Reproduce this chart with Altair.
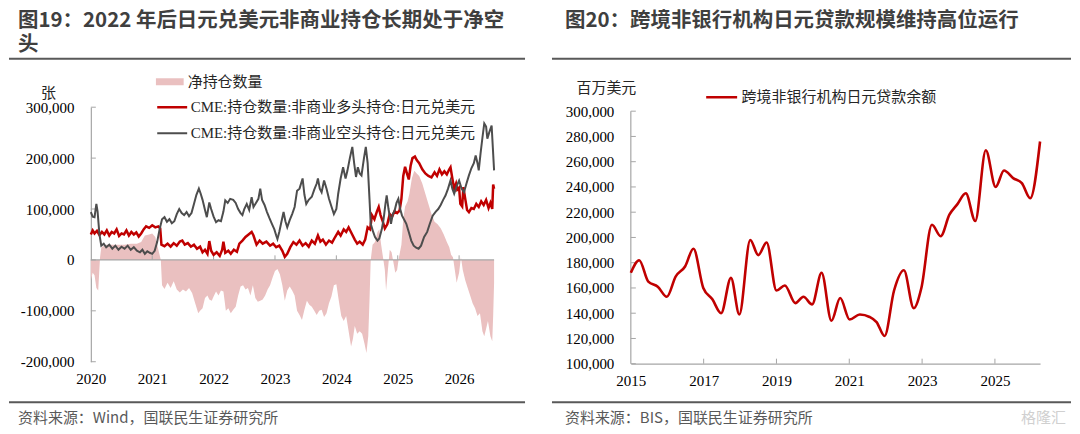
import altair as alt
import pandas as pd

# ---------------- text ----------------
LONG = "CME:持仓数量:非商业多头持仓:日元兑美元"
SHORT = "CME:持仓数量:非商业空头持仓:日元兑美元"
NET = "净持仓数量"
LOAN = "跨境非银行机构日元贷款余额"
left_title_lines = ["图19：2022 年后日元兑美元非商业持仓长期处于净空", "头"]
right_title = "图20：跨境非银行机构日元贷款规模维持高位运行"
left_source = "资料来源：Wind，国联民生证券研究所"
right_source = "资料来源：BIS，国联民生证券研究所"
left_unit = "张"
right_unit = "百万美元"

# ---------------- axes ----------------
left_years = [2020, 2021, 2022, 2023, 2024, 2025, 2026]
left_yticks = [-200000, -100000, 0, 100000, 200000, 300000]
right_years = [2015, 2017, 2019, 2021, 2023, 2025]
right_yticks = [100000, 120000, 140000, 160000, 180000, 200000, 220000,
                240000, 260000, 280000, 300000]

# ---------------- data (thousand contracts) ----------------
long_t = [2020.00, 2020.03, 2020.06, 2020.10, 2020.14, 2020.18, 2020.22, 2020.26, 2020.30, 2020.34,
          2020.38, 2020.42, 2020.46, 2020.50, 2020.54, 2020.58, 2020.62, 2020.66, 2020.70, 2020.74,
          2020.78, 2020.82, 2020.86, 2020.90, 2020.95, 2021.00, 2021.05, 2021.10, 2021.13, 2021.15,
          2021.20, 2021.25, 2021.30, 2021.35, 2021.40, 2021.45, 2021.49, 2021.53, 2021.58, 2021.63,
          2021.68, 2021.73, 2021.78, 2021.82, 2021.86, 2021.90, 2021.93, 2021.96, 2022.00, 2022.05,
          2022.10, 2022.14, 2022.16, 2022.19, 2022.24, 2022.28, 2022.33, 2022.38, 2022.42, 2022.47,
          2022.52, 2022.57, 2022.62, 2022.65, 2022.70, 2022.75, 2022.80, 2022.86, 2022.92, 2022.97,
          2023.02, 2023.07, 2023.12, 2023.16, 2023.20, 2023.25, 2023.30, 2023.35, 2023.40, 2023.45,
          2023.50, 2023.55, 2023.60, 2023.65, 2023.70, 2023.74, 2023.78, 2023.83, 2023.88, 2023.93,
          2023.98, 2024.03, 2024.07, 2024.12, 2024.16, 2024.20, 2024.25, 2024.30, 2024.34, 2024.38,
          2024.43, 2024.47, 2024.51, 2024.55, 2024.58, 2024.62, 2024.66, 2024.69, 2024.72, 2024.75,
          2024.79, 2024.83, 2024.87, 2024.91, 2024.95, 2024.99, 2025.03, 2025.06, 2025.09, 2025.12,
          2025.15, 2025.18, 2025.21, 2025.24, 2025.28, 2025.31, 2025.35, 2025.40, 2025.45, 2025.50,
          2025.55, 2025.60, 2025.64, 2025.68, 2025.72, 2025.76, 2025.80, 2025.84, 2025.86, 2025.89,
          2025.92, 2025.95, 2025.97, 2026.00, 2026.02, 2026.05, 2026.07, 2026.10, 2026.13, 2026.16,
          2026.20, 2026.24, 2026.28, 2026.32, 2026.36, 2026.40, 2026.44, 2026.48, 2026.51, 2026.54,
          2026.555, 2026.57]
long_k = [50, 58, 52, 57, 49, 55, 50, 58, 48, 55,
          52, 60, 47, 52, 50, 58, 48, 55, 50, 54,
          46, 52, 60, 66, 63, 68, 64, 66, 62, 30,
          27, 32, 26, 33, 28, 36, 38, 30, 33, 26,
          30, 22, 26, 15, 20, 12, 37, 18, 10, 15,
          8, 20, 36, 14, 18, 12, 20, 16, 32, 38,
          45, 50, 55, 48, 30, 38, 32, 36, 28, 32,
          25, 28, 18, 6, 12, 25, 35, 30, 38, 28,
          33, 26, 38, 32, 48, 36, 40, 30, 38, 34,
          45, 55, 48, 60, 55, 64, 52, 40, 32, 36,
          30, 40, 64, 60, 88, 80, 95, 104, 88, 78,
          62, 70, 90, 85, 96, 92, 97, 120, 165, 183,
          170, 158, 185, 200, 203, 196, 190, 178, 170, 165,
          162, 172, 165, 178, 168, 174, 168, 178, 182, 160,
          140, 150, 138, 142, 110, 105, 143, 120, 98, 94,
          102, 100, 110, 104, 115, 108, 118, 102, 112, 100,
          148, 140]

short_t = [2020.00, 2020.03, 2020.06, 2020.09, 2020.11, 2020.14, 2020.17, 2020.21, 2020.25, 2020.30,
           2020.35, 2020.40, 2020.45, 2020.50, 2020.55, 2020.60, 2020.65, 2020.70, 2020.75, 2020.80,
           2020.84, 2020.88, 2020.92, 2020.96, 2021.00, 2021.04, 2021.08, 2021.12, 2021.16, 2021.20,
           2021.24, 2021.28, 2021.32, 2021.36, 2021.40, 2021.44, 2021.48, 2021.52, 2021.56, 2021.60,
           2021.64, 2021.68, 2021.72, 2021.76, 2021.79, 2021.82, 2021.86, 2021.89, 2021.93, 2021.96,
           2022.00, 2022.04, 2022.08, 2022.12, 2022.16, 2022.19, 2022.23, 2022.27, 2022.32, 2022.36,
           2022.40, 2022.44, 2022.47, 2022.50, 2022.54, 2022.58, 2022.62, 2022.65, 2022.69, 2022.73,
           2022.76, 2022.79, 2022.83, 2022.87, 2022.91, 2022.95, 2022.99, 2023.02, 2023.04, 2023.07,
           2023.10, 2023.14, 2023.17, 2023.20, 2023.24, 2023.28, 2023.32, 2023.36, 2023.40, 2023.45,
           2023.48, 2023.51, 2023.55, 2023.60, 2023.64, 2023.68, 2023.70, 2023.73, 2023.76, 2023.80,
           2023.84, 2023.88, 2023.92, 2023.96, 2024.00, 2024.03, 2024.07, 2024.11, 2024.15, 2024.18,
           2024.22, 2024.26, 2024.29, 2024.32, 2024.35, 2024.38, 2024.41, 2024.45, 2024.48, 2024.51,
           2024.54, 2024.56, 2024.60, 2024.63, 2024.67, 2024.70, 2024.74, 2024.77, 2024.80, 2024.82,
           2024.85, 2024.89, 2024.92, 2024.95, 2024.98, 2025.01, 2025.04, 2025.07, 2025.11, 2025.14,
           2025.18, 2025.22, 2025.26, 2025.30, 2025.34, 2025.38, 2025.43, 2025.48, 2025.52, 2025.57,
           2025.62, 2025.66, 2025.70, 2025.74, 2025.78, 2025.82, 2025.86, 2025.89, 2025.92, 2025.96,
           2026.00, 2026.04, 2026.08, 2026.12, 2026.16, 2026.20, 2026.24, 2026.27, 2026.30, 2026.32,
           2026.35, 2026.38, 2026.41, 2026.44, 2026.46, 2026.49, 2026.53, 2026.55, 2026.57]
short_k = [94, 85, 84, 110, 95, 50, 28, 32, 25, 30,
           22, 28, 20, 26, 22, 28, 20, 25, 18, 15,
           20, 12, 17, 14, 12, 18, 35, 60, 80, 84,
           75, 80, 72, 76, 90, 100, 92, 88, 94, 86,
           92, 110, 128, 140, 130, 118, 98, 84, 113, 100,
           85, 74, 78, 76, 95, 117, 112, 120, 118, 112,
           100, 92, 88, 100, 110, 98, 123, 104, 112, 120,
           140, 118, 108, 94, 82, 71, 60, 48, 41, 55,
           72, 94, 76, 64, 78, 90, 104, 136, 140, 160,
           128, 110, 118, 124, 138, 150, 160, 140, 133, 156,
           140, 120, 105, 90, 100, 130, 160, 182, 160, 175,
           200, 222, 190, 163, 182, 170, 166, 200, 222, 190,
           120, 71, 55, 45, 38, 42, 60, 80, 110, 127,
           100, 71, 90, 97, 112, 120, 100, 87, 78, 71,
           55, 38, 28, 24, 22, 28, 45, 55, 70, 87,
           95, 100, 108, 118, 127, 140, 156, 140, 130, 145,
           156, 140, 133, 150, 166, 180, 190, 205, 190, 176,
           210, 240, 268, 262, 238, 250, 264, 220, 176]

net_t = [2020.00, 2020.03, 2020.06, 2020.09, 2020.12, 2020.15, 2020.17, 2020.25, 2020.35, 2020.45,
         2020.55, 2020.65, 2020.75, 2020.82, 2020.88, 2020.95, 2021.00, 2021.05, 2021.10, 2021.14,
         2021.16, 2021.20, 2021.25, 2021.30, 2021.35, 2021.40, 2021.45, 2021.50, 2021.55, 2021.60,
         2021.65, 2021.70, 2021.75, 2021.78, 2021.82, 2021.86, 2021.90, 2021.93, 2021.97, 2022.00,
         2022.04, 2022.08, 2022.12, 2022.16, 2022.20, 2022.24, 2022.28, 2022.32, 2022.36, 2022.40,
         2022.44, 2022.48, 2022.52, 2022.56, 2022.60, 2022.64, 2022.68, 2022.72, 2022.76, 2022.80,
         2022.84, 2022.88, 2022.92, 2022.96, 2023.00, 2023.04, 2023.08, 2023.12, 2023.16, 2023.20,
         2023.24, 2023.28, 2023.32, 2023.36, 2023.40, 2023.44, 2023.48, 2023.52, 2023.56, 2023.60,
         2023.64, 2023.68, 2023.72, 2023.76, 2023.80, 2023.84, 2023.88, 2023.92, 2023.96, 2024.00,
         2024.04, 2024.08, 2024.12, 2024.16, 2024.20, 2024.24, 2024.27, 2024.30, 2024.34, 2024.38,
         2024.42, 2024.46, 2024.49, 2024.52, 2024.54, 2024.56, 2024.59, 2024.63, 2024.67, 2024.70,
         2024.73, 2024.76, 2024.79, 2024.81, 2024.84, 2024.87, 2024.90, 2024.93, 2024.96, 2024.99,
         2025.02, 2025.06, 2025.09, 2025.12, 2025.16, 2025.19, 2025.23, 2025.27, 2025.31, 2025.35,
         2025.40, 2025.45, 2025.50, 2025.55, 2025.60, 2025.65, 2025.70, 2025.75, 2025.80, 2025.84,
         2025.87, 2025.90, 2025.93, 2025.96, 2026.00, 2026.03, 2026.06, 2026.10, 2026.14, 2026.18,
         2026.22, 2026.26, 2026.30, 2026.34, 2026.38, 2026.41, 2026.44, 2026.47, 2026.51, 2026.54,
         2026.555, 2026.57]
net_k = [-40, -25, -30, -55, -60, 5, 25, 30, 30, 30,
         30, 32, 32, 35, 48, 50, 52, 45, 20, 0,
         -50, -57, -45, -55, -42, -58, -64, -58, -62, -55,
         -65, -85, -105, -100, -95, -75, -70, -78, -80, -72,
         -62, -70, -60, -62, -100, -95, -105, -98, -92, -70,
         -52, -50, -58, -55, -70, -50, -75, -82, -80, -78,
         -70, -58, -50, -35, -22, -18, -28, -50, -80, -60,
         -52, -60, -70, -100, -108, -118, -98, -80, -88, -92,
         -100, -108, -100, -98, -112, -105, -85, -72, -50, -48,
         -80, -110, -120, -110, -140, -170, -155, -130, -145, -140,
         -145, -165, -183, -150, -80, 0, 30, 35, 55, 60,
         30, 5, -20, -60, -20, 20, 15, -5, -25, -20,
         5, 30, 80, 105, 115, 130, 160, 175, 170, 165,
         150, 130, 110, 90, 75, 70, 62, 50, 35, 25,
         10, 5, -20, -45, -25, 5, -20, -40, -55, -70,
         -85, -95, -110, -105, -140, -150, -135, -120, -150, -160,
         -110, -45]

# quarterly loans, million USD (thousands)
loan_t = [2015.00, 2015.23, 2015.48, 2015.74, 2015.99, 2016.23, 2016.49, 2016.72, 2016.99, 2017.24,
          2017.48, 2017.75, 2017.98, 2018.28, 2018.50, 2018.73, 2019.00, 2019.23, 2019.52, 2019.74,
          2019.98, 2020.24, 2020.51, 2020.75, 2021.01, 2021.29, 2021.56, 2021.75, 2021.97, 2022.23,
          2022.50, 2022.77, 2022.98, 2023.27, 2023.51, 2023.75, 2023.96, 2024.20, 2024.46, 2024.75,
          2025.02, 2025.25, 2025.50, 2025.74, 2025.97, 2026.24]
loan_k = [172, 182, 165, 161, 153, 169, 177, 191, 160, 151,
          140, 168, 139, 198, 186, 196, 158, 162, 148, 153,
          147, 172, 134, 152, 135, 139, 137, 133, 122, 158,
          174, 144, 160, 210, 201, 218, 226, 235, 213, 269,
          240, 253, 247, 243, 231, 276]

# ---------------- styles ----------------
RED = "#c00000"
GRAY = "#4d4d4d"
PINK = "#eac0c0"
AXIS = "#a6a6a6"
SERIF = "Liberation Serif, Noto Sans CJK SC"
SANS = "Noto Sans CJK SC"

net_df = pd.DataFrame({"t": net_t, "v": [k * 1000 for k in net_k], "s": NET})
lines_df = pd.concat([
    pd.DataFrame({"t": long_t, "v": [k * 1000 for k in long_k], "s": LONG}),
    pd.DataFrame({"t": short_t, "v": [k * 1000 for k in short_k], "s": SHORT}),
])
loan_df = pd.DataFrame({"t": loan_t, "v": [k * 1000 for k in loan_k], "s": LOAN})
one = pd.DataFrame({"k": [0]})


def txt(text, x, y, size, color, weight="normal", font=SANS, align="left",
        baseline="middle", **kw):
    return alt.Chart(one).mark_text(
        text=text, align=align, baseline=baseline, fontSize=size, color=color,
        fontWeight=weight, font=font, **kw
    ).encode(x=alt.value(x), y=alt.value(y))


def hline(x1, x2, y, color="#595959", width=2.0, opacity=1.0):
    return alt.Chart(one).mark_rule(color=color, strokeWidth=width, opacity=opacity).encode(
        x=alt.value(x1), x2=alt.value(x2), y=alt.value(y))


LABEL_EXPR = "replace(datum.label, '\u2212', '-')"

# ---------------- left panel ----------------
W1, H1 = 404, 255
xs1 = alt.Scale(domain=[2020, 2026.57], nice=False, zero=False)
ys1 = alt.Scale(domain=[-200000, 300000], nice=False)

left_x_axis = alt.Axis(values=left_years, format="d", domain=False, ticks=False, grid=False,
                       labelPadding=10, labelFont=SERIF, labelFontSize=15, labelColor="#000",
                       labelFlush=False, labelOverlap=False, title=None)
left_y_axis = alt.Axis(values=left_yticks, format=",d", labelExpr=LABEL_EXPR, domain=True,
                       domainColor=AXIS, domainWidth=1.2, ticks=False, grid=False,
                       labelPadding=17, labelFont=SERIF, labelFontSize=15, labelColor="#000",
                       labelOverlap=False, labelFlush=False,
                       title=left_unit, titleAngle=0, titleX=-43, titleY=-15, titleAlign="center",
                       titleBaseline="middle", titleFont=SANS, titleFontSize=15,
                       titleFontWeight="normal", titleColor="#262626")

area = alt.Chart(net_df).mark_area(interpolate="linear").encode(
    x=alt.X("t:Q", scale=xs1, axis=left_x_axis),
    y=alt.Y("v:Q", scale=ys1, stack=None, axis=left_y_axis),
    fill=alt.Fill("s:N", scale=alt.Scale(domain=[NET], range=[PINK]),
                  legend=alt.Legend(title=None, orient="none", legendX=65, legendY=-38.5,
                                    symbolType="M-1,-0.25L1,-0.25L1,0.25L-1,0.25Z",
                                    symbolSize=784, symbolStrokeWidth=0, symbolOpacity=1,
                                    labelFont=SERIF, labelFontSize=15, labelColor="#262626",
                                    labelOffset=4, labelLimit=400, clipHeight=26, padding=0,
                                    rowPadding=0)),
)

zero_line = alt.Chart(one).mark_rule(color=AXIS, strokeWidth=1.2).encode(
    y=alt.YDatum(0, scale=ys1, axis=left_y_axis))

xticks1 = alt.Chart(pd.DataFrame({"t": left_years[1:]})).mark_rule(color=AXIS, strokeWidth=1).encode(
    x=alt.X("t:Q", scale=xs1, axis=left_x_axis),
    y=alt.YDatum(0, scale=ys1, axis=left_y_axis),
    y2=alt.Y2Datum(9000),
)
yticks1 = alt.Chart(pd.DataFrame({"v": left_yticks})).mark_rule(color=AXIS, strokeWidth=1).encode(
    y=alt.Y("v:Q", scale=ys1, axis=left_y_axis), x=alt.value(0), x2=alt.value(5))

lines = alt.Chart(lines_df).mark_line(interpolate="linear").encode(
    x=alt.X("t:Q", scale=xs1, axis=left_x_axis),
    y=alt.Y("v:Q", scale=ys1, axis=left_y_axis),
    stroke=alt.Stroke("s:N", scale=alt.Scale(domain=[LONG, SHORT], range=[RED, GRAY]),
                      legend=alt.Legend(title=None, orient="none", legendX=65, legendY=-13,
                                        symbolType="stroke", symbolSize=900,
                                        symbolStrokeWidth=2.5, labelFont=SERIF,
                                        labelFontSize=15, labelColor="#262626", labelOffset=2,
                                        labelLimit=400, clipHeight=26, padding=0, rowPadding=0)),
    strokeWidth=alt.StrokeWidth("s:N", scale=alt.Scale(domain=[LONG, SHORT], range=[2.5, 2.0]),
                                legend=None),
)

left_deco = [
    hline(-82, 0, -99, opacity=0),
    alt.Chart(one).mark_text(text=left_title_lines, align="left", baseline="top", fontSize=20.5,
                             lineHeight=24, color="#3f3f3f", fontWeight="bold", font=SANS).encode(
        x=alt.value(-73), y=alt.value(-96)),
    hline(-82, 435, -48.5),
    hline(-82, 435, 295.5),
    txt(left_source, -73, 311, 15, "#595959"),
]

left = alt.layer(area, zero_line, xticks1, yticks1, lines, *left_deco).properties(width=W1, height=H1)

# ---------------- right panel ----------------
# plot area starts 4px lower than the left one: extend the domain a little above 300,000
W2, H2 = 410, 257
xs2 = alt.Scale(domain=[2015, 2026.24], nice=False, zero=False)
ys2 = alt.Scale(domain=[100000, 303150], nice=False, zero=False)

right_x_axis = alt.Axis(values=right_years, format="d", domain=True, domainColor=AXIS,
                        domainWidth=1.2, ticks=False, grid=False, labelPadding=10,
                        labelFont=SERIF, labelFontSize=15, labelColor="#000",
                        labelFlush=False, labelOverlap=False, title=None)
right_y_axis = alt.Axis(values=right_yticks, format=",d", domain=False, ticks=False, grid=False,
                        labelPadding=17, labelFont=SERIF, labelFontSize=15, labelColor="#000",
                        labelOverlap=False, labelFlush=False,
                        title=right_unit, titleAngle=0, titleX=-25, titleY=-20,
                        titleAlign="center", titleBaseline="middle", titleFont=SANS,
                        titleFontSize=15, titleFontWeight="normal", titleColor="#262626")

loan_line = alt.Chart(loan_df).mark_line(interpolate="monotone", strokeWidth=2.6).encode(
    x=alt.X("t:Q", scale=xs2, axis=right_x_axis),
    y=alt.Y("v:Q", scale=ys2, axis=right_y_axis),
    stroke=alt.Stroke("s:N", scale=alt.Scale(domain=[LOAN], range=[RED]),
                      legend=alt.Legend(title=None, orient="none", legendX=74, legendY=-23,
                                        symbolType="stroke", symbolSize=961,
                                        symbolStrokeWidth=2.6, labelFont=SERIF,
                                        labelFontSize=15, labelColor="#262626", labelOffset=3,
                                        labelLimit=400, clipHeight=26, padding=0, rowPadding=0)),
)
yaxis_line2 = alt.Chart(one).mark_rule(color=AXIS, strokeWidth=1.2).encode(
    x=alt.value(0),
    y=alt.YDatum(right_yticks[0], scale=ys2, axis=right_y_axis),
    y2=alt.Y2Datum(right_yticks[-1]),
)
xticks2 = alt.Chart(pd.DataFrame({"t": right_years[1:]})).mark_rule(color=AXIS, strokeWidth=1).encode(
    x=alt.X("t:Q", scale=xs2, axis=right_x_axis),
    y=alt.YDatum(100000, scale=ys2, axis=right_y_axis),
    y2=alt.Y2Datum(104000),
)
yticks2 = alt.Chart(pd.DataFrame({"v": right_yticks})).mark_rule(color=AXIS, strokeWidth=1).encode(
    y=alt.Y("v:Q", scale=ys2, axis=right_y_axis), x=alt.value(0), x2=alt.value(5))

right_deco = [
    hline(-79, 0, -99, opacity=0),
    txt(right_title, -66, -96, 20.5, "#3f3f3f", weight="bold", baseline="top"),
    hline(-79, 441, -48.5),
    hline(-79, 441, 295.5),
    txt(right_source, -66, 311, 15, "#595959"),
    txt("格隆汇", 436, 311, 15, "#d0d0d0", align="right"),
]

right = alt.layer(yaxis_line2, xticks2, yticks2, loan_line, *right_deco).properties(width=W2, height=H2)

chart = alt.hconcat(left, right, spacing=25).resolve_scale(
    stroke="independent", fill="independent", strokeWidth="independent"
).resolve_legend(stroke="independent", fill="independent").properties(
    padding=0, background="white"
).configure_view(strokeWidth=0)

chart.save("out.html", embed_options={"renderer": "svg", "actions": False})
